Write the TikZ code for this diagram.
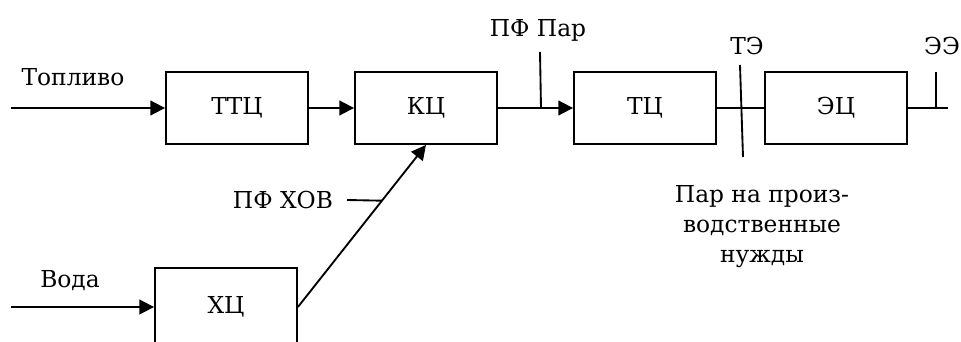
\documentclass[tikz,border=0pt]{standalone}
\usepackage{fontspec}
\setmainfont{DejaVu Serif}
\usetikzlibrary{arrows.meta,positioning,calc}

\tikzset{
  block/.style={draw, line width=1.4pt, minimum width=106.5pt, minimum height=54pt, inner sep=0pt},
  flow/.style={line width=1.4pt},
  feed/.style={line width=1.4pt, -{Triangle[length=11pt,width=11pt]}},
  lbl/.style={anchor=base, inner sep=0pt}
}

\begin{document}
\begin{tikzpicture}[x=0.75pt, y=-0.75pt, font=\fontsize{17.5}{22.5}\selectfont]
            \clip (0,0) rectangle (961,342);
            \useasboundingbox (0,0) rectangle (961,342);

            % Main chain
            \node[block] (ttc) at (237,108) {ТТЦ};
            \node[block] (kc)  at (426,108) {КЦ};
            \node[block] (tc)  at (645,108) {ТЦ};
            \node[block] (ec)  at (836,108) {ЭЦ};

            % Water branch
            \node[block, minimum height=58.5pt] (xc) at (226,307) {ХЦ};

            % Inputs
            \coordinate (fuelin) at (11,108);
            \coordinate (waterin) at (11,307);
            \node[lbl] (fuel) at (73,86) {Топливо};
            \node[lbl] (water) at (70,287) {Вода};
            \draw[feed] (fuelin) -- (ttc);
            \draw[feed] (waterin) -- (xc);

            % Links between blocks
            \draw[feed] (ttc) -- (kc);
            \draw[feed] (kc) -- (tc);
            \draw[flow] (tc) -- (ec);
            \draw[feed] (xc.east) -- (kc.south);

            % Steam tap
            \node[lbl] (pfpar) at (538,37) {ПФ Пар};
            \coordinate (partop) at (540,52);
            \coordinate (parbot) at (541,108);
            \draw[flow] (partop) -- (parbot);

            % Chemically treated water tap
            \node[lbl] (pfxov) at (283,209) {ПФ ХОВ};
            \coordinate (xovend) at ($(xc.east)!0.656!(kc.south)$);
            \draw[flow] (347,200) -- (xovend);

            % Heat output
            \node[lbl] (te) at (747,55) {ТЭ};
            \coordinate (tetop) at (740,65);
            \coordinate (tebot) at (743,157);
            \draw[flow] (tetop) -- (tebot);
            \node[align=center, inner sep=0pt] (steam) at (762,227) {Пар на произ-\\водственные\\нужды};

            % Electric output
            \node[lbl] (ee) at (942,55) {ЭЭ};
            \coordinate (eeout) at (948,108);
            \coordinate (eetick) at (936,72);
            \draw[flow] (ec) -- (eeout);
            \draw[flow] (eetick) -- (eetick |- eeout);
\end{tikzpicture}
\end{document}
